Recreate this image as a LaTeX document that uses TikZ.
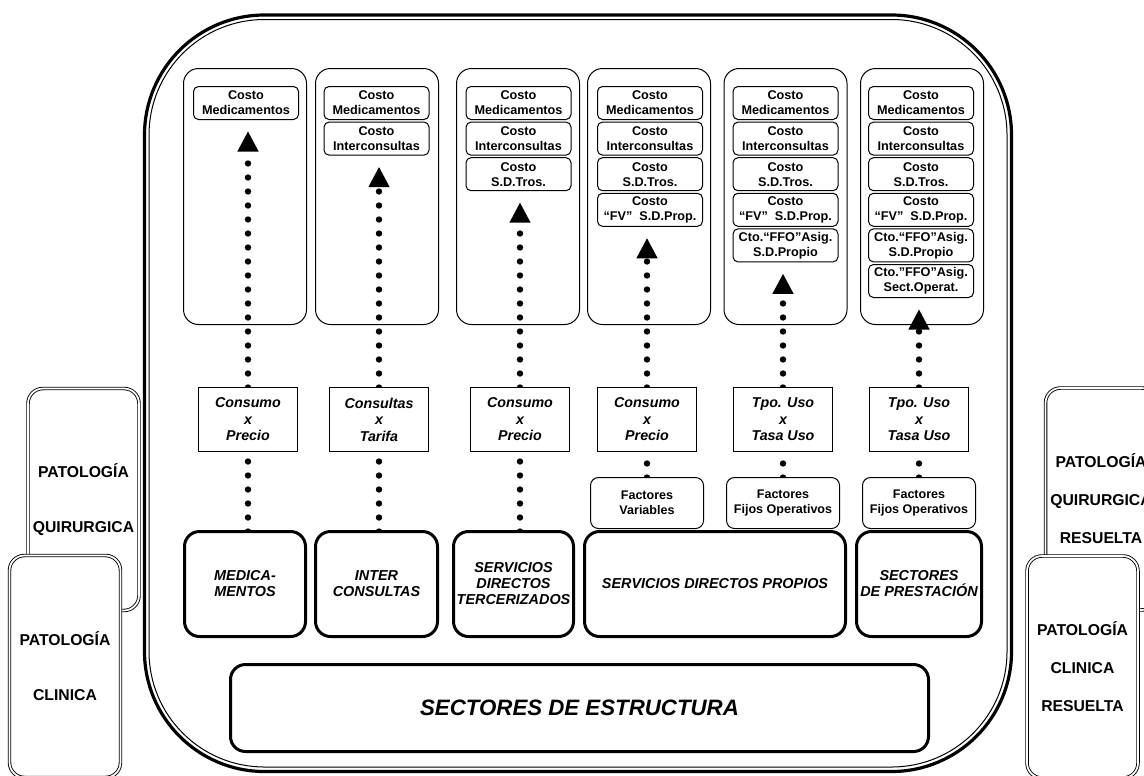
\documentclass[tikz,border=0pt]{standalone}
\usepackage{fontspec}
\setmainfont{Liberation Sans}
\usetikzlibrary{arrows.meta,backgrounds}
\begin{document}
\begin{tikzpicture}[x=0.75pt,y=-0.75pt,
  every node/.style={inner sep=0pt, outer sep=0pt, align=center},
  container/.style={draw, line width=0.75pt, rounded corners=11.25pt, minimum width=92.25pt, minimum height=192pt},
  costbox/.style={draw, fill=white, line width=0.75pt, rounded corners=3.75pt, minimum width=78.75pt, minimum height=24.75pt, font=\fontsize{9.5}{11.25}\selectfont\bfseries},
  formula/.style={draw, fill=white, line width=0.9pt, minimum width=74.25pt, minimum height=48pt, font=\fontsize{10.7}{12.4}\selectfont\bfseries\itshape},
  factor/.style={draw, fill=white, line width=0.75pt, rounded corners=6pt, minimum width=84.75pt, minimum height=38.25pt, font=\fontsize{9.4}{11.25}\selectfont\bfseries},
  sector/.style={draw, fill=white, line width=2.25pt, rounded corners=11.25pt, minimum height=78.75pt, font=\fontsize{10.8}{12}\selectfont\bfseries\itshape},
  patol/.style={draw, fill=white, double, line width=0.65pt, double distance=1.3pt, rounded corners=11.25pt, minimum width=83.25pt, minimum height=166.5pt, font=\fontsize{11.8}{41.25}\selectfont\bfseries},
  patolr/.style={patol, font=\fontsize{11.8}{28.5}\selectfont\bfseries},
  dotline/.style={line width=4.8pt, line cap=round, dash pattern=on 0pt off 10.5pt},
  arrowline/.style={dotline, -{Triangle[length=15pt,width=16pt,line width=0pt]}},
]
\useasboundingbox (0,0) rectangle (1144,775);

% patologia boxes
\node[patol] (pq) at (83.5,499.5) {PATOLOGÍA\\QUIRURGICA};
\node[patol] (pc) at (65,666.5) {PATOLOGÍA\\CLINICA};
\node[patolr] (pqr) at (1101,499) {PATOLOGÍA\\QUIRURGICA\\RESUELTA};
\node[patolr] (pcr) at (1082.5,667) {PATOLOGÍA\\CLINICA\\RESUELTA};

% cost boxes
\node[costbox] (c11) at (246,103) {Costo\\Medicamentos};

\node[costbox] (c21) at (376.5,103) {Costo\\Medicamentos};
\node[costbox] (c22) at (376.5,138.6) {Costo\\Interconsultas};

\node[costbox] (c31) at (518.5,103) {Costo\\Medicamentos};
\node[costbox] (c32) at (518.5,138.6) {Costo\\Interconsultas};
\node[costbox] (c33) at (518.5,174.2) {Costo\\S.D.Tros.};

\node[costbox] (c41) at (650,103) {Costo\\Medicamentos};
\node[costbox] (c42) at (650,138.6) {Costo\\Interconsultas};
\node[costbox] (c43) at (650,174.2) {Costo\\S.D.Tros.};
\node[costbox] (c44) at (650,209.8) {Costo\\“FV”\ \ S.D.Prop.};

\node[costbox] (c51) at (785.5,103) {Costo\\Medicamentos};
\node[costbox] (c52) at (785.5,138.6) {Costo\\Interconsultas};
\node[costbox] (c53) at (785.5,174.2) {Costo\\S.D.Tros.};
\node[costbox] (c54) at (785.5,209.8) {Costo\\“FV”\ \ S.D.Prop.};
\node[costbox] (c55) at (785.5,245.4) {Cto.“FFO”Asig.\\S.D.Propio};

\node[costbox] (c61) at (921,103) {Costo\\Medicamentos};
\node[costbox] (c62) at (921,138.6) {Costo\\Interconsultas};
\node[costbox] (c63) at (921,174.2) {Costo\\S.D.Tros.};
\node[costbox] (c64) at (921,209.8) {Costo\\“FV”\ \ S.D.Prop.};
\node[costbox] (c65) at (921,245.4) {Cto.“FFO”Asig.\\S.D.Propio};
\node[costbox] (c66) at (921,281) {Cto.”FFO”Asig.\\Sect.Operat.};

% formula boxes
\node[formula] (f1) at (248,419.5) {Consumo\\x\\Precio};
\node[formula] (f2) at (379,419.5) {Consultas\\x\\Tarifa};
\node[formula] (f3) at (520,419.5) {Consumo\\x\\Precio};
\node[formula] (f4) at (647,419.5) {Consumo\\x\\Precio};
\node[formula] (f5) at (783,419.5) {Tpo. Uso\\x\\Tasa Uso};
\node[formula] (f6) at (919,419.5) {Tpo. Uso\\x\\Tasa Uso};

% factores
\node[factor] (v4) at (647,503) {Factores\\Variables};
\node[factor] (v5) at (783,503) {Factores\\Fijos Operativos};
\node[factor] (v6) at (919,503) {Factores\\Fijos Operativos};

% sector boxes
\node[sector, minimum width=90.75pt] (bmed) at (245,584) {MEDICA-\\MENTOS};
\node[sector, minimum width=91.5pt] (binter) at (376.5,584) {INTER\\CONSULTAS};
\node[sector, minimum width=90pt] (bter) at (513.5,584) {SERVICIOS\\DIRECTOS\\TERCERIZADOS};
\node[sector, minimum width=195.75pt] (bprop) at (715,584) {SERVICIOS DIRECTOS PROPIOS};
\node[sector, minimum width=93.75pt] (bprest) at (919,584) {SECTORES\\DE PRESTACIÓN};
\node[sector, minimum width=523.5pt, minimum height=65.25pt, font=\fontsize{16.7}{20}\selectfont\bfseries\itshape] (est) at (579.5,708) {SECTORES DE ESTRUCTURA};

\begin{pgfonlayer}{background}
  % outer frame
  \draw[line width=2.4pt, rounded corners=90pt] (144.5,15) rectangle (1011.5,771.5);
  \draw[line width=0.75pt, rounded corners=86.6pt] (149,19.5) rectangle (1007,767);
  % containers
  \node[container] (k1) at (245,196.5) {};
  \node[container] (k2) at (377,196.5) {};
  \node[container] (k3) at (518,196.5) {};
  \node[container] (k4) at (649,196.5) {};
  \node[container] (k5) at (785.5,196.5) {};
  \node[container] (k6) at (922,196.5) {};
  % arrow targets
  \coordinate (t1) at ([yshift=-9pt]c11.south);
  \coordinate (t2) at ([yshift=-9pt]c22.south);
  \coordinate (t3) at ([yshift=-9pt]c33.south);
  \coordinate (t4) at ([yshift=-9pt]c44.south);
  \coordinate (t5) at ([yshift=-9pt]c55.south);
  \coordinate (t6) at ([yshift=-9pt]c66.south);
  % connectors
  \draw[dotline] (f1.south |- bmed.north) -- (f1.south);
  \draw[dotline] (f2.south |- binter.north) -- (f2.south);
  \draw[dotline] (f3.south |- bter.north) -- (f3.south);
  \draw[dotline] (v4.north) -- (f4.south);
  \draw[dotline] (v5.north) -- (f5.south);
  \draw[dotline] (v6.north) -- (f6.south);
  \draw[arrowline] (f1.north) -- (f1.north |- t1);
  \draw[arrowline] (f2.north) -- (f2.north |- t2);
  \draw[arrowline] (f3.north) -- (f3.north |- t3);
  \draw[arrowline] (f4.north) -- (f4.north |- t4);
  \draw[arrowline] (f5.north) -- (f5.north |- t5);
  \draw[arrowline] (f6.north) -- (f6.north |- t6);
\end{pgfonlayer}
\end{tikzpicture}
\end{document}
